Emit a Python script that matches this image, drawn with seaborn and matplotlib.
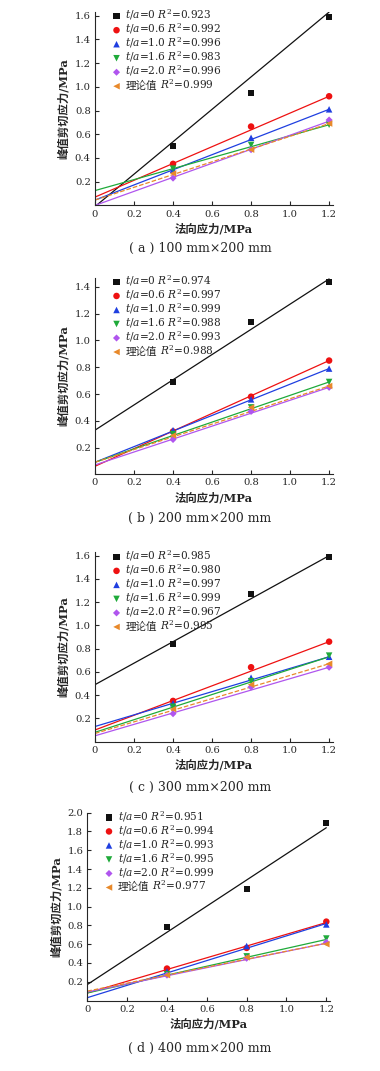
import matplotlib
matplotlib.use("Agg")
import matplotlib.pyplot as plt
from matplotlib.ticker import FuncFormatter
import seaborn as sns
import pandas as pd

# x positions of the tests and of the fitted lines
normal_stress = [0.4, 0.8, 1.2]
fit_x = [0.0, 1.2]

series = [r"$t/a$=0", r"$t/a$=0.6", r"$t/a$=1.0", r"$t/a$=1.6", r"$t/a$=2.0", "理论值"]
colors = ["#111111", "#ee1111", "#1f3fe0", "#1faa3a", "#b055ee", "#e8892a"]
markers = ["s", "o", "^", "v", "D", "<"]
msizes = [20, 22, 22, 22, 13, 22]
captions = ["( a ) 100 mm×200 mm", "( b ) 200 mm×200 mm",
            "( c ) 300 mm×200 mm", "( d ) 400 mm×200 mm"]

# (a) 100 mm x 200 mm
a_points = [[0.50, 0.95, 1.59], [0.35, 0.665, 0.92], [0.30, 0.57, 0.81],
            [0.31, 0.51, 0.68], [0.23, 0.47, 0.72], [0.27, 0.47, 0.69]]
a_fit = [[-0.01, 1.63], [0.07, 0.92], [0.045, 0.81],
         [0.125, 0.68], [0.0, 0.71], [0.045, 0.69]]
a_r2 = ["0.923", "0.992", "0.996", "0.983", "0.996", "0.999"]

# (b) 200 mm x 200 mm
b_points = [[0.69, 1.14, 1.44], [0.32, 0.58, 0.85], [0.33, 0.56, 0.79],
            [0.30, 0.50, 0.69], [0.26, 0.47, 0.65], [0.29, 0.50, 0.66]]
b_fit = [[0.33, 1.46], [0.06, 0.85], [0.09, 0.79],
         [0.09, 0.69], [0.07, 0.65], [0.09, 0.66]]
b_r2 = ["0.974", "0.997", "0.999", "0.988", "0.993", "0.988"]

# (c) 300 mm x 200 mm
c_points = [[0.84, 1.27, 1.59], [0.35, 0.64, 0.86], [0.33, 0.55, 0.73],
            [0.30, 0.52, 0.74], [0.24, 0.47, 0.64], [0.28, 0.49, 0.67]]
c_fit = [[0.49, 1.60], [0.10, 0.86], [0.13, 0.73],
         [0.08, 0.73], [0.05, 0.64], [0.07, 0.67]]
c_r2 = ["0.985", "0.980", "0.997", "0.999", "0.967", "0.995"]

# (d) 400 mm x 200 mm
d_points = [[0.78, 1.19, 1.89], [0.34, 0.56, 0.84], [0.31, 0.58, 0.81],
            [0.28, 0.47, 0.66], [0.27, 0.45, 0.62], [0.27, 0.46, 0.60]]
d_fit = [[0.17, 1.84], [0.08, 0.83], [0.03, 0.82],
         [0.08, 0.65], [0.09, 0.61], [0.10, 0.61]]
d_r2 = ["0.951", "0.994", "0.993", "0.995", "0.999", "0.977"]

sns.set_theme(style="ticks")
plt.rcParams["font.family"] = ["DejaVu Serif", "Noto Sans CJK SC"]
plt.rcParams["mathtext.fontset"] = "dejavuserif"
plt.rcParams["axes.linewidth"] = 0.8

W, H = 380, 1071
fig = plt.figure(figsize=(W / 100, H / 100), dpi=100)

# axes boxes in pixels: left, bottom (from top), width, height; ymax, top y tick, caption y
panels = [
    (a_points, a_fit, a_r2, (95, 205.4, 238, 193.7), 1.633, 1.6, 248),
    (b_points, b_fit, b_r2, (95, 474.3, 238, 196.7), 1.47, 1.4, 518),
    (c_points, c_fit, c_r2, (95, 741.6, 238, 189.4), 1.63, 1.6, 787),
    (d_points, d_fit, d_r2, (87.3, 1000.5, 243, 187.8), 2.0, 2.0, 1048),
]

LEG_FS = 7.6
legends = []

for i, (pts, fit, r2, box, ymax, ytop, cap_y) in enumerate(panels):
    left, bottom, w, h = box
    ax = fig.add_axes([left / W, (H - bottom) / H, w / W, h / H])

    for j in range(len(series)):
        sns.lineplot(x=fit_x, y=fit[j], color=colors[j], lw=0.9,
                     linestyle="--" if j == 5 else "-", ax=ax, legend=False)

    for j, name in enumerate(series):
        df = pd.DataFrame({"x": normal_stress, "y": pts[j]})
        sns.scatterplot(data=df, x="x", y="y", color=colors[j], marker=markers[j],
                        s=msizes[j], edgecolor="none", label=f"s{j}", ax=ax, zorder=3)

    ax.set_xlim(0, 1.22)
    ax.set_ylim(0, ymax)
    ax.set_xticks([0, 0.2, 0.4, 0.6, 0.8, 1.0, 1.2])
    yt = [round(0.2 * k, 1) for k in range(1, int(round(ytop / 0.2)) + 1)]
    ax.set_yticks(yt)
    ax.xaxis.set_major_formatter(FuncFormatter(lambda v, p: "0" if abs(v) < 1e-9 else f"{v:.1f}"))
    ax.yaxis.set_major_formatter(FuncFormatter(lambda v, p: f"{v:.1f}"))
    ax.tick_params(direction="in", length=3, width=0.8, labelsize=7.2, pad=3)
    sns.despine(ax=ax)

    ax.set_xlabel("法向应力/MPa", fontsize=8.2, fontweight="bold", labelpad=3)
    ax.set_ylabel("峰值剪切应力/MPa", fontsize=8.2, fontweight="bold", labelpad=4)

    # legend keeps only the markers; the mixed CJK / mathtext labels are
    # written beside them once the layout is known
    handles, _ = ax.get_legend_handles_labels()
    leg = ax.legend(handles, [""] * len(handles), loc="upper left",
                    bbox_to_anchor=(0.035, 1.042), frameon=False,
                    fontsize=LEG_FS, handletextpad=0.3, labelspacing=0.38,
                    borderaxespad=0.3, handlelength=1.1)
    legends.append((leg, r2))

    fig.text(200 / W, 1 - cap_y / H, captions[i], ha="center", va="center",
             fontsize=9)

fig.canvas.draw()
renderer = fig.canvas.get_renderer()
for leg, r2 in legends:
    for k, t in enumerate(leg.get_texts()):
        xb, yb = t.get_transform().transform(t.get_position())
        if k < 5:
            fig.text(xb / W, yb / H, f"{series[k]} $R^2$={r2[k]}",
                     ha="left", va="baseline", fontsize=LEG_FS)
        else:
            name = fig.text(xb / W, yb / H, series[k], ha="left", va="baseline",
                            fontsize=LEG_FS, family="Noto Sans CJK SC")
            x1 = name.get_window_extent(renderer=renderer).x1
            fig.text((x1 + 3) / W, yb / H, f"$R^2$={r2[k]}",
                     ha="left", va="baseline", fontsize=LEG_FS)

fig.savefig("out.png", dpi=100)
